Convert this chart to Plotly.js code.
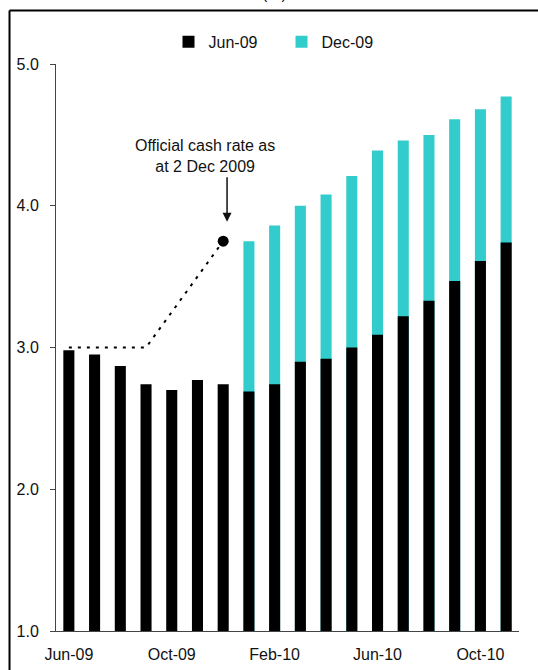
<!DOCTYPE html>
<html>
<head>
<meta charset="utf-8">
<script src="https://cdn.plot.ly/plotly-3.0.1.min.js"></script>
<style>
  html, body { margin: 0; padding: 0; background: #fff; }
  #chart { width: 538px; height: 670px; }
</style>
</head>
<body>
<div id="chart"></div>
<script>
// Monthly horizon of the market-implied cash rate path
const months = ['Jun-09','Jul-09','Aug-09','Sep-09','Oct-09','Nov-09','Dec-09',
                'Jan-10','Feb-10','Mar-10','Apr-10','May-10','Jun-10','Jul-10',
                'Aug-10','Sep-10','Oct-10','Nov-10'];

// Expectations as priced in June 2009 (%)
const jun09 = [2.98, 2.95, 2.87, 2.74, 2.70, 2.77, 2.74, 2.69, 2.74, 2.90,
               2.92, 3.00, 3.09, 3.22, 3.33, 3.47, 3.61, 3.74];

// Expectations as priced in December 2009 (%)
const dec09 = [null, null, null, null, null, null, null, 3.75, 3.86, 4.00,
               4.08, 4.21, 4.39, 4.46, 4.50, 4.61, 4.68, 4.77];

// Official cash rate, Jun-09 to Dec-09 (%)
const cashMonths = ['Jun-09','Jul-09','Aug-09','Sep-09','Oct-09','Nov-09','Dec-09'];
const cashRate = [3.00, 3.00, 3.00, 3.00, 3.25, 3.50, 3.75];

const yTicks = [1, 2, 3, 4, 5];

const FONT = 'Liberation Sans, Arial, Helvetica, sans-serif';
const INK = '#111111';
const CYAN = '#33cccc';

const traces = [
  {
    type: 'bar', name: 'Dec-09', x: months, y: dec09,
    marker: { color: CYAN, line: { width: 0 } },
    legendrank: 2, hoverinfo: 'x+y'
  },
  {
    type: 'bar', name: 'Jun-09', x: months, y: jun09,
    marker: { color: '#000000', line: { width: 0 } },
    legendrank: 1, hoverinfo: 'x+y'
  },
  {
    type: 'scatter', mode: 'lines', name: 'Cash rate path',
    x: cashMonths, y: cashRate, showlegend: false,
    line: { color: '#000000', width: 2, dash: '3px,6px' }
  },
  {
    // latest official cash rate
    type: 'scatter', mode: 'markers', name: 'Cash rate',
    x: cashMonths.slice(-1), y: cashRate.slice(-1), showlegend: false,
    marker: { color: '#000000', size: 11, opacity: 1, line: { color: '#000000', width: 0 } }
  }
];

const layout = {
  width: 538, height: 670,
  margin: { l: 56, r: 19, t: 64, b: 39 },
  paper_bgcolor: '#ffffff', plot_bgcolor: '#ffffff',
  font: { family: FONT, size: 16, color: INK },
  barmode: 'overlay',
  bargap: 0.57,
  showlegend: true,
  legend: {
    orientation: 'h', x: 0.243, xanchor: 'left', y: 1.039, yanchor: 'middle',
    font: { family: FONT, size: 16, color: INK },
    entrywidth: 68, entrywidthmode: 'pixels',
    traceorder: 'normal', bgcolor: 'rgba(0,0,0,0)'
  },
  xaxis: {
    type: 'category', range: [-0.5, months.length - 0.5],
    tickmode: 'linear', tick0: 0, dtick: 4,
    ticks: '', showline: true, linecolor: '#444444', linewidth: 1,
    showgrid: false, zeroline: false, fixedrange: true,
    tickfont: { family: FONT, size: 16, color: INK },
    ticklabelstandoff: 9
  },
  yaxis: {
    range: [1, 5], tickmode: 'array', tickvals: yTicks,
    ticktext: yTicks.map(v => v.toFixed(1)),
    ticks: 'outside', ticklen: 5, tickcolor: '#444444', tickwidth: 1,
    showline: true, linecolor: '#444444', linewidth: 1,
    showgrid: false, zeroline: false, fixedrange: true,
    tickfont: { family: FONT, size: 16, color: INK },
    ticklabelstandoff: 8
  },
  shapes: [
    // panel frame (top and left edges)
    { type: 'line', xref: 'paper', yref: 'paper', x0: -0.1004, x1: 1.2, y0: 1.0944, y1: 1.0944,
      line: { color: '#000000', width: 2 } },
    { type: 'line', xref: 'paper', yref: 'paper', x0: -0.1004, x1: -0.1004, y0: 1.0944, y1: -0.2,
      line: { color: '#000000', width: 2 } }
  ],
  annotations: [
    { xref: 'paper', yref: 'paper', x: 0.473, y: 1.124, xanchor: 'center', yanchor: 'middle',
      text: '(%)', showarrow: false, font: { family: FONT, size: 16, color: INK } },
    { xref: 'x', yref: 'y', x: 5.28, y: 4.35, xanchor: 'center', yanchor: 'middle',
      text: 'Official cash rate as<br>at 2 Dec 2009', showarrow: false, align: 'center',
      font: { family: FONT, size: 16, color: INK } },
    { xref: 'x', yref: 'y', x: 6.15, y: 3.887, text: '', showarrow: true,
      ax: 0, ay: -46, arrowhead: 2, arrowsize: 1.2, arrowwidth: 1.5, arrowcolor: '#111111' }
  ]
};

Plotly.newPlot('chart', traces, layout, { staticPlot: true, displayModeBar: false });
</script>
</body>
</html>
